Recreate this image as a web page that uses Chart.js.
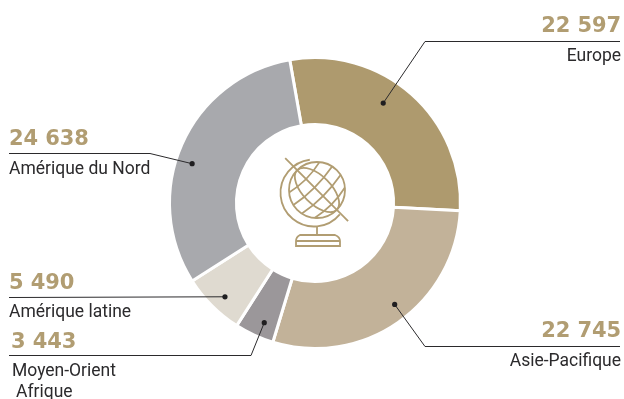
<!DOCTYPE html>
<html lang="fr">
<head>
<meta charset="utf-8">
<style>
html,body{margin:0;padding:0;background:#fff}
#wrap{position:relative;width:624px;height:399px;overflow:hidden}
</style>
<script src="https://cdn.jsdelivr.net/npm/chart.js@4"></script>
</head>
<body>
<div id="wrap"><canvas id="c" width="624" height="399"></canvas></div>
<script>
// Répartition par région
const regions = ['Europe', 'Asie-Pacifique', 'Moyen-Orient Afrique', 'Amérique latine', 'Amérique du Nord'];
const amounts = [22597, 22745, 3443, 5490, 24638];
const amountLabels = ['22 597', '22 745', '3 443', '5 490', '24 638'];
const sliceColours = ['#ae9a6e', '#c2b299', '#9b979a', '#dfdad0', '#a8a9ad'];

// Callouts: position of the dot inside each slice, then the leader path and its text
const dotAlong = [0.43, 0.47, 0.39, 0.45, 0.446];
const dotRadius = [121, 129, 130, 130, 129];
const leaderPaths = [
  [[425, 41], [620, 41]],
  [[425, 346], [620, 346]],
  [[251, 355], [9, 355]],
  [[9, 297]],
  [[150, 153], [9, 153]]
];
const amountAnchors = [[621, 32, 'right'], [621, 337, 'right'], [11, 348, 'left'], [9, 289, 'left'], [9, 145, 'left']];
const nameLines = [
  [['Europe', 621, 61, 'right']],
  [['Asie-Pacifique', 621, 366, 'right']],
  [['Moyen-Orient', 12, 376, 'left'], ['Afrique', 16, 397, 'left']],
  [['Amérique latine', 9, 317, 'left']],
  [['Amérique du Nord', 9, 174, 'left']]
];

const callouts = {
  id: 'callouts',
  afterDatasetsDraw(chart) {
    const { ctx } = chart;
    const arcs = chart.getDatasetMeta(0).data;
    ctx.save();
    arcs.forEach((arc, i) => {
      const a = arc.startAngle + (arc.endAngle - arc.startAngle) * dotAlong[i];
      const dx = arc.x + Math.cos(a) * dotRadius[i];
      const dy = arc.y + Math.sin(a) * dotRadius[i];
      ctx.strokeStyle = '#2b2a2c';
      ctx.lineWidth = 1;
      ctx.beginPath();
      ctx.moveTo(dx, dy);
      leaderPaths[i].forEach(p => ctx.lineTo(p[0], p[1] + 0.5));
      ctx.stroke();
      ctx.fillStyle = '#1f1e20';
      ctx.beginPath();
      ctx.arc(dx, dy, 2.6, 0, Math.PI * 2);
      ctx.fill();

      const [ax, ay, align] = amountAnchors[i];
      ctx.textAlign = align;
      ctx.textBaseline = 'alphabetic';
      ctx.font = 'bold 21px "DejaVu Sans"';
      ctx.letterSpacing = '-0.1px';
      ctx.fillStyle = '#b19d72';
      ctx.fillText(amountLabels[i], ax, ay);

      ctx.font = '17.5px Roboto';
      ctx.letterSpacing = '0px';
      ctx.fillStyle = '#2b2a2c';
      nameLines[i].forEach(([t, x, y, al]) => {
        ctx.textAlign = al;
        ctx.fillText(t, x, y);
      });
    });
    ctx.restore();
    drawGlobe(ctx, arcs[0].x + 2, arcs[0].y - 13);
  }
};

// Line-art globe emblem in the doughnut hole
function drawGlobe(ctx, cx, cy) {
  const R = 28;
  ctx.save();
  ctx.strokeStyle = '#b19d72';
  ctx.lineWidth = 1.8;
  ctx.translate(cx, cy);

  ctx.beginPath();
  ctx.arc(0, 0, R, 0, Math.PI * 2);
  ctx.stroke();

  // cradle ring
  ctx.beginPath();
  ctx.arc(-3, 3, 33.5, Math.PI * 0.22, Math.PI * 1.46);
  ctx.stroke();

  // stand and base
  ctx.beginPath();
  ctx.moveTo(0, 37);
  ctx.lineTo(0, 45);
  ctx.moveTo(-21, 56);
  ctx.lineTo(-21, 51);
  ctx.quadraticCurveTo(-21, 47, -17, 45);
  ctx.lineTo(18, 45);
  ctx.quadraticCurveTo(23, 47, 23, 51);
  ctx.lineTo(23, 56);
  ctx.closePath();
  ctx.moveTo(-21, 51);
  ctx.lineTo(23, 51);
  ctx.stroke();

  ctx.rotate(Math.PI / 4);
  // axis
  ctx.beginPath();
  ctx.moveTo(-45, 0);
  ctx.lineTo(44, 0);
  ctx.stroke();
  // meridian
  ctx.beginPath();
  ctx.ellipse(0, 0, R, 14, 0, 0, Math.PI * 2);
  ctx.stroke();
  // parallels
  [-18, -6, 6, 18].forEach(x => {
    const h = Math.sqrt(R * R - x * x);
    ctx.beginPath();
    ctx.moveTo(x, -h);
    ctx.quadraticCurveTo(x + 5, 0, x, h);
    ctx.stroke();
  });
  ctx.restore();
}

new Chart(document.getElementById('c'), {
  type: 'doughnut',
  data: {
    labels: regions,
    datasets: [{
      data: amounts,
      backgroundColor: sliceColours,
      borderColor: '#ffffff',
      borderWidth: 3,
      hoverOffset: 0
    }]
  },
  options: {
    responsive: false,
    animation: false,
    rotation: -10,
    cutout: '54%',
    layout: { padding: { left: 168, right: 162, top: 56, bottom: 49 } },
    plugins: { legend: { display: false }, tooltip: { enabled: false } }
  },
  plugins: [callouts]
});
</script>
</body>
</html>
